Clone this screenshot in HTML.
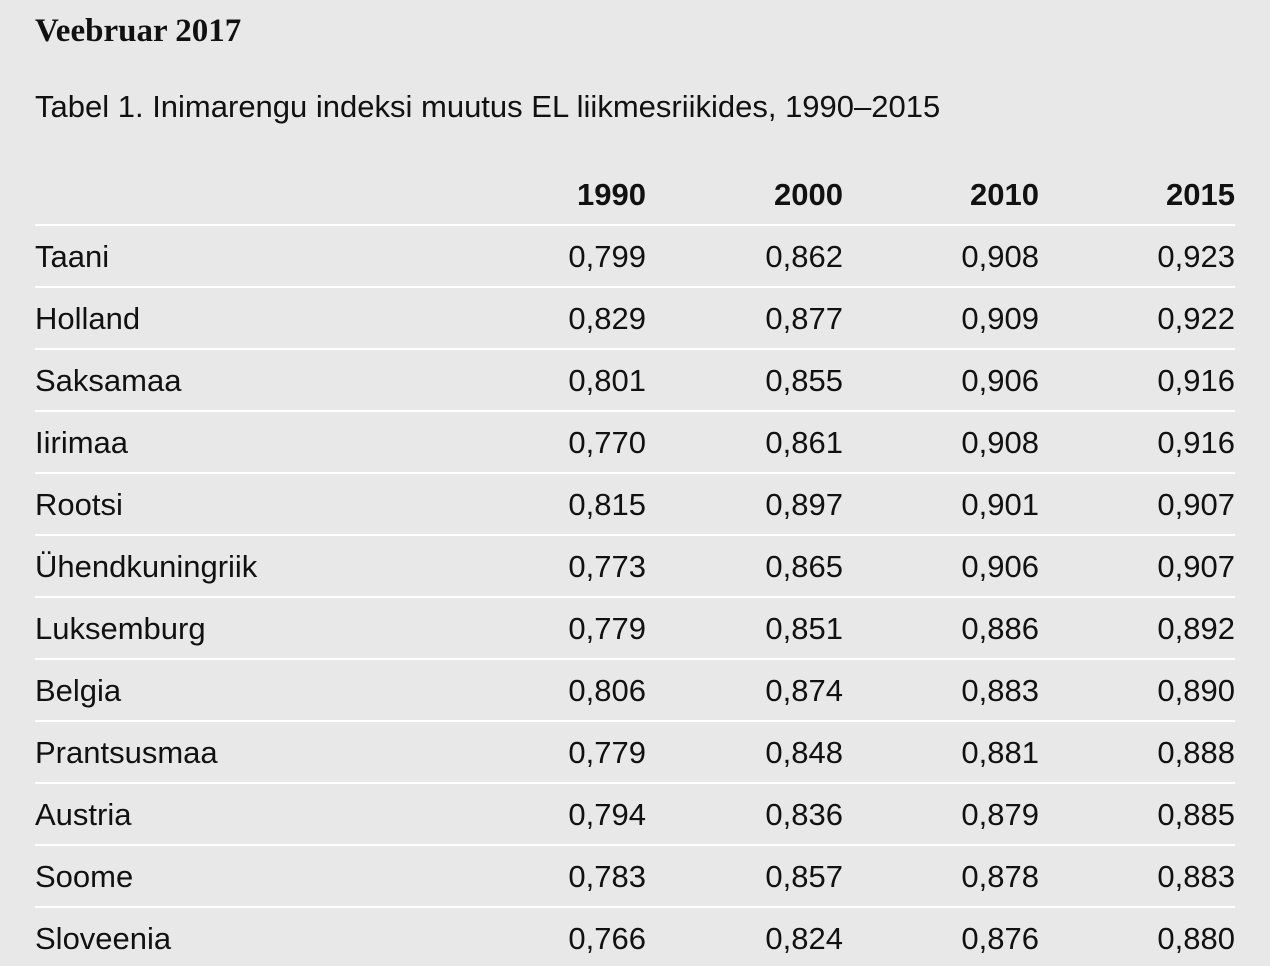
<!DOCTYPE html>
<html><head><meta charset="utf-8"><style>
html,body{margin:0;padding:0;background:#e8e8e8;width:1270px;height:966px;overflow:hidden}
body{position:relative;font-family:"Liberation Sans",sans-serif;color:#111}
.title{position:absolute;left:35px;top:13px;font-family:"Liberation Serif",serif;font-weight:bold;font-size:33px}
.sub{position:absolute;left:35px;top:89px;font-size:31px;letter-spacing:0}
table{position:absolute;left:35px;top:163px;width:1200px;border-collapse:collapse;font-size:31px;table-layout:fixed}
th{font-weight:bold;text-align:right;height:59px;border-bottom:2px solid #fff;padding:2px 0 0 0;vertical-align:middle;box-sizing:content-box}
td{height:58px;border-bottom:2px solid #fff;padding:2px 0 0 0;text-align:right;vertical-align:middle;box-sizing:content-box;line-height:58px}
td.n{text-align:left}
tr:last-child td{border-bottom:none}
</style></head><body>
<div class="title">Veebruar 2017</div>
<div class="sub">Tabel 1. Inimarengu indeksi muutus EL liikmesriikides, 1990–2015</div>
<table>
<colgroup><col style="width:415px"><col style="width:196px"><col style="width:197px"><col style="width:196px"><col style="width:196px"></colgroup>
<thead><tr><th></th><th>1990</th><th>2000</th><th>2010</th><th>2015</th></tr></thead>
<tbody id="tb"></tbody></table>
<script>
const countries=["Taani","Holland","Saksamaa","Iirimaa","Rootsi","Ühendkuningriik","Luksemburg","Belgia","Prantsusmaa","Austria","Soome","Sloveenia"];
const v1990=["0,799","0,829","0,801","0,770","0,815","0,773","0,779","0,806","0,779","0,794","0,783","0,766"];
const v2000=["0,862","0,877","0,855","0,861","0,897","0,865","0,851","0,874","0,848","0,836","0,857","0,824"];
const v2010=["0,908","0,909","0,906","0,908","0,901","0,906","0,886","0,883","0,881","0,879","0,878","0,876"];
const v2015=["0,923","0,922","0,916","0,916","0,907","0,907","0,892","0,890","0,888","0,885","0,883","0,880"];
const tb=document.getElementById('tb');
countries.forEach((c,i)=>{
 const tr=document.createElement('tr');
 
 
 [c,v1990[i],v2000[i],v2010[i],v2015[i]].forEach((t,j)=>{
  const td=document.createElement('td');
  if(j===0)td.className='n';
  td.textContent=t;
  tr.appendChild(td);
 });
 tb.appendChild(tr);
});
</script>
</body></html>
